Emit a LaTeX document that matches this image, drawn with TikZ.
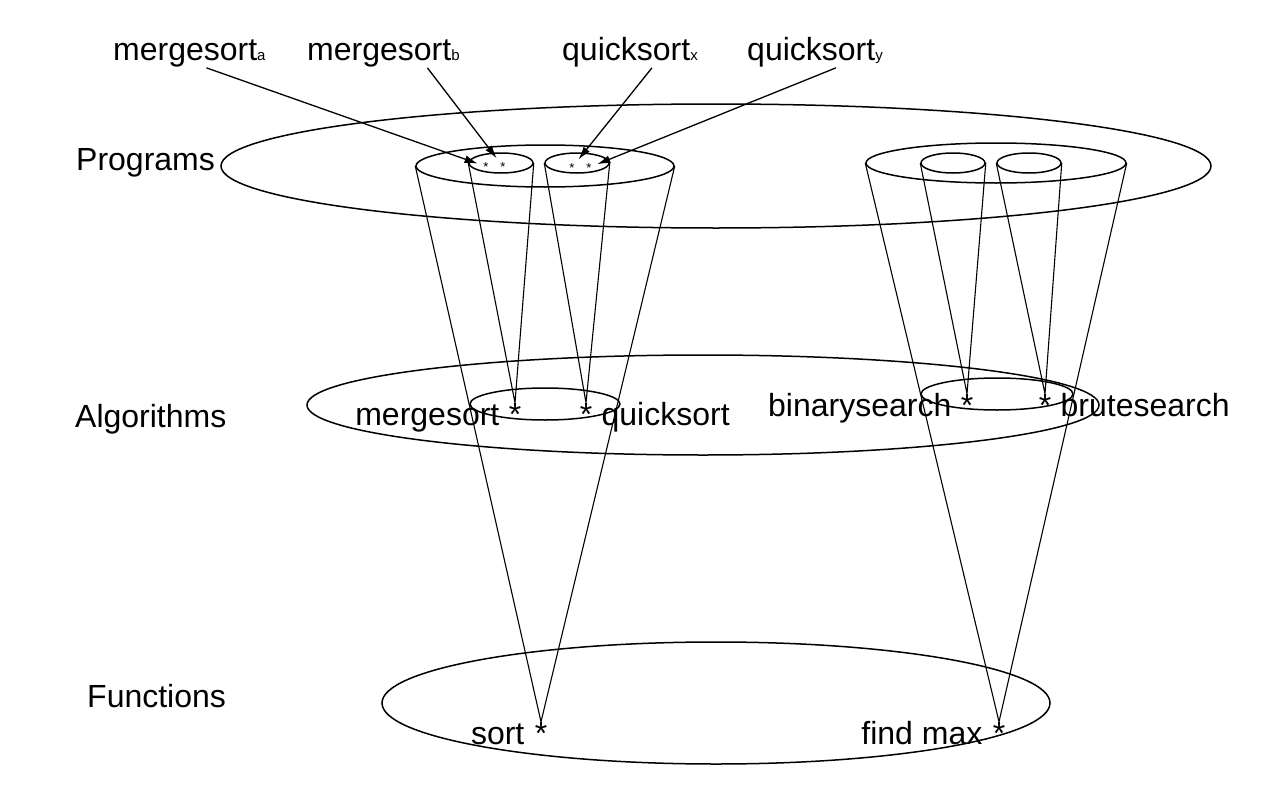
\documentclass[tikz,border=0pt]{standalone}
\usepackage{fontspec}
\setmainfont{Liberation Sans}
\usepackage{tikz}
\usetikzlibrary{positioning,shapes.geometric,arrows.meta}
\tikzstyle{layer}=[draw,ellipse,inner sep=0pt,line width=1.5pt]
\tikzstyle{word}=[inner sep=0pt,font=\fontsize{32}{38}\selectfont]
\tikzstyle{tinystar}=[inner sep=0pt,anchor=base,font=\fontsize{13}{15}\selectfont]
\tikzstyle{cone}=[line width=1.1pt]
\tikzstyle{pointer}=[->,line width=1.3pt,shorten >=6pt]
\newcommand{\vsub}[1]{{\fontsize{15}{18}\selectfont #1}}

\begin{document}
\begin{tikzpicture}[x=1pt,y=-1pt,>={Latex[length=13pt,width=8pt]}]
            \useasboundingbox (0,0) rectangle (1272,792);
            % the three levels
            \node[layer,minimum width=990pt,minimum height=124pt] (prog) at (716,166) {};
            \node[layer,minimum width=792pt,minimum height=100pt] (alg) at (703,405) {};
            \node[layer,minimum width=668pt,minimum height=122pt] (func) at (716,703) {};
            \node[word,anchor=base west] (lprog) at (76,170) {Programs};
            \node[word,anchor=base west] (lalg) at (75,427) {Algorithms};
            \node[word,anchor=base west] (lfunc) at (87,707) {Functions};
            % functions
            \node[word,anchor=base] (fsort) at (541,744) {*};
            \node[word,base left=10pt of fsort] (fsortname) {sort};
            \node[word,anchor=base] (ffind) at (999,744) {*};
            \node[word,base left=10pt of ffind] (ffindname) {find max};
            % algorithms
            \node[layer,minimum width=150pt,minimum height=32pt] (asort) at (545,404) {};
            \node[layer,minimum width=152pt,minimum height=32pt] (afind) at (997,394) {};
            \node[word,anchor=base] (ams) at (515,425) {*};
            \node[word,anchor=base] (aqs) at (586,425) {*};
            \node[word,anchor=base] (abs) at (967,416) {*};
            \node[word,anchor=base] (abr) at (1045,416) {*};
            \node[word,base left=9pt of ams] (amsname) {mergesort};
            \node[word,base right=9pt of aqs] (aqsname) {quicksort};
            \node[word,base left=9pt of abs] (absname) {binarysearch};
            \node[word,base right=9pt of abr] (abrname) {brutesearch};
            % programs
            \node[layer,minimum width=258pt,minimum height=42pt] (psort) at (545,166) {};
            \node[layer,minimum width=260pt,minimum height=40pt] (pfind) at (996,163) {};
            \node[layer,minimum width=64pt,minimum height=20pt] (pms) at (501,163) {};
            \node[layer,minimum width=64pt,minimum height=20pt] (pqs) at (577,163) {};
            \node[layer,minimum width=64pt,minimum height=20pt] (pbs) at (953,163) {};
            \node[layer,minimum width=64pt,minimum height=20pt] (pbr) at (1029,163) {};
            \node[tinystar] (pms1) at (486,171) {*};
            \node[tinystar] (pms2) at (503,171) {*};
            \node[tinystar] (pqs1) at (572,172) {*};
            \node[tinystar] (pqs2) at (589,172) {*};
            % cones
            \foreach \rim/\apex in {psort/fsort,pfind/ffind,pms/ams,pqs/aqs,pbs/abs,pbr/abr}
                \draw[cone] (\rim.west) -- (\apex.north) (\rim.east) -- (\apex.north);
            % program names
            \node[word,anchor=base west] (ma) at (113,61) {mergesort\vsub{a}};
            \node[word,anchor=base west] (mb) at (307,61) {mergesort\vsub{b}};
            \node[word,anchor=base west] (qx) at (562,61) {quicksort\vsub{x}};
            \node[word,anchor=base west] (qy) at (747,61) {quicksort\vsub{y}};
            \draw[pointer] ([xshift=17pt]ma.south) -- (pms1);
            \draw[pointer] ([xshift=44pt]mb.south) -- (pms2);
            \draw[pointer] ([xshift=22pt]qx.south) -- (pqs1);
            \draw[pointer] ([xshift=21pt]qy.south) -- (pqs2);
        \end{tikzpicture}
\end{document}
